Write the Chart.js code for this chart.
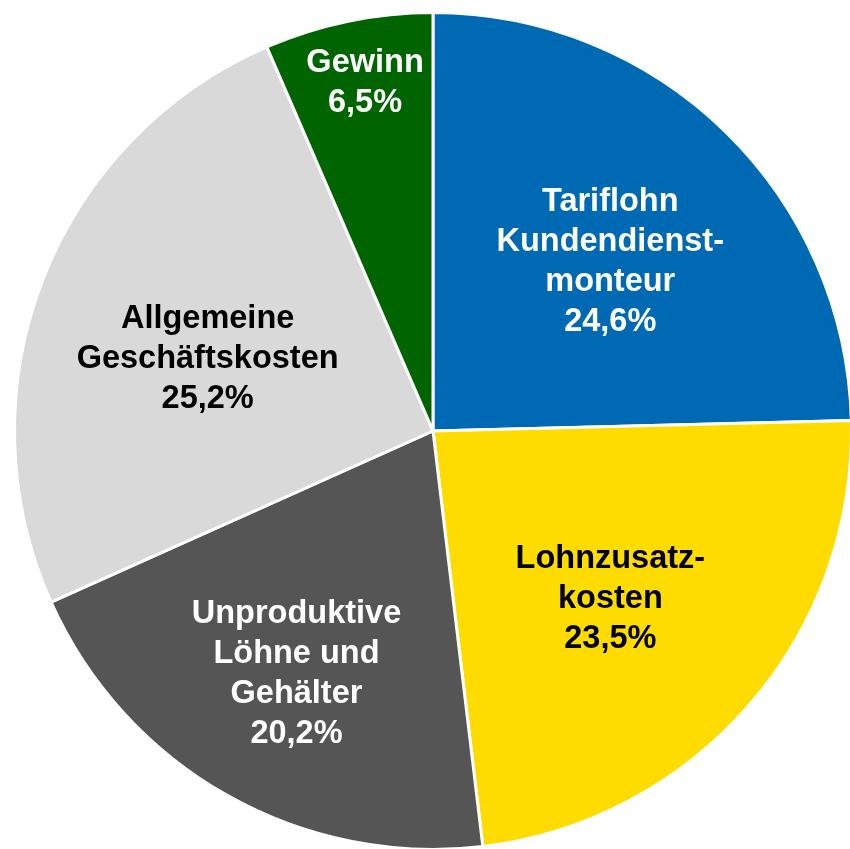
<!DOCTYPE html>
<html>
<head>
<meta charset="utf-8">
<script src="https://cdn.jsdelivr.net/npm/chart.js@4"></script>
<style>
  html, body { margin: 0; padding: 0; background: #fff; overflow: hidden; }
  #clip { width: 850px; height: 849px; overflow: hidden; position: relative; }
  #wrap { width: 860px; height: 860px; }
</style>
</head>
<body>
<div id="clip"><div id="wrap"><canvas id="pieChart"></canvas></div></div>
<script>
// categories (each label split into its lines)
const categories = [
  ["Tariflohn", "Kundendienst-", "monteur"],
  ["Lohnzusatz-", "kosten"],
  ["Unproduktive", "Löhne und", "Gehälter"],
  ["Allgemeine", "Geschäftskosten"],
  ["Gewinn"],
];
const values = [24.6, 23.5, 20.2, 25.2, 6.5];
const sliceColors = ["#0069b4", "#ffdc00", "#555555", "#d9d9d9", "#006400"];
const textColors = ["#ffffff", "#000000", "#ffffff", "#000000", "#ffffff"];
// label placement: share of radius and small turn (degrees) from the slice middle
const labelRadius = [0.589, 0.581, 0.662, 0.567, 0.851];
const labelTurn = [1.7, 2.3, 0, -3, 0.7];

// draws the text inside each slice
const sliceLabels = {
  id: "sliceLabels",
  afterDatasetsDraw(chart) {
    const ctx = chart.ctx;
    const meta = chart.getDatasetMeta(0);
    ctx.save();
    ctx.font = "bold 32.5px 'Liberation Sans', Arial, sans-serif";
    ctx.textAlign = "center";
    ctx.textBaseline = "middle";
    meta.data.forEach((arc, i) => {
      const mid = (arc.startAngle + arc.endAngle) / 2 + (labelTurn[i] * Math.PI) / 180;
      const r = arc.outerRadius * labelRadius[i];
      const cx = arc.x + Math.cos(mid) * r;
      const cy = arc.y + Math.sin(mid) * r + 2;
      const lines = categories[i].concat([values[i].toFixed(1).replace(".", ",") + "%"]);
      const lh = 40;
      const top = cy - ((lines.length - 1) * lh) / 2;
      ctx.fillStyle = textColors[i];
      lines.forEach((t, j) => ctx.fillText(t, cx, top + j * lh));
    });
    ctx.restore();
  },
};

var ctx = document.getElementById("pieChart").getContext("2d");
var pieChart = new Chart(ctx, {
  type: "pie",
  data: {
    labels: categories.map((c) => c.join(" ")),
    datasets: [
      {
        data: values,
        backgroundColor: sliceColors,
        borderColor: "#ffffff",
        borderWidth: 3,
      },
    ],
  },
  options: {
    responsive: true,
    maintainAspectRatio: false,
    animation: false,
    layout: { padding: { left: 13, top: 11, right: 7, bottom: 9 } },
    plugins: {
      legend: { display: false },
      tooltip: { enabled: false },
    },
  },
  plugins: [sliceLabels],
});
</script>
</body>
</html>
